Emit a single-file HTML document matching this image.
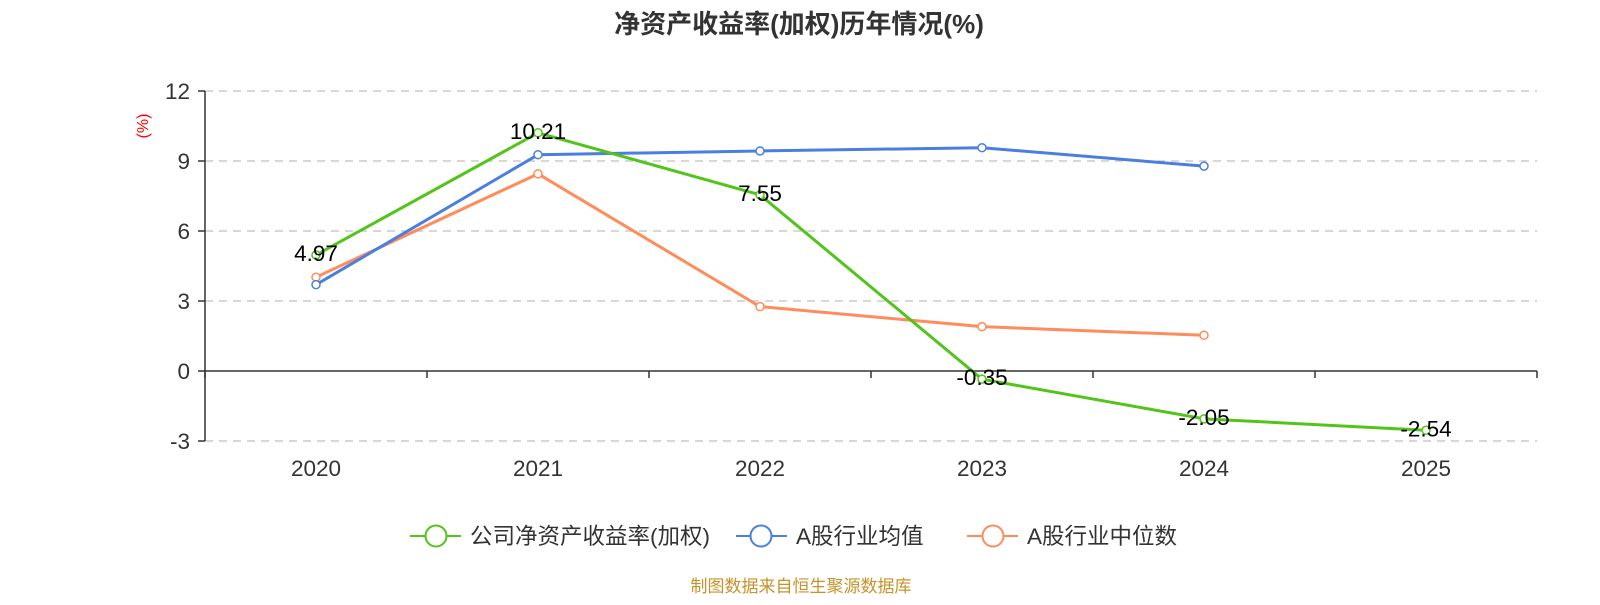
<!DOCTYPE html>
<html><head><meta charset="utf-8"><style>
body{margin:0;background:#fff;}
svg text{font-family:"Liberation Sans","Noto Sans CJK SC",sans-serif;}
</style></head><body>
<svg id="chart" width="1600" height="600" xmlns="http://www.w3.org/2000/svg">
<text x="799" y="33" text-anchor="middle" font-size="26" font-weight="bold" fill="#333">净资产收益率(加权)历年情况(%)</text>
<text transform="translate(148,126) rotate(-90)" text-anchor="middle" font-size="16" fill="#f00">(%)</text>
<g id="grid"></g><g id="axes"></g><g id="series"></g>
<g font-size="22.5" fill="#333">
 <g><line x1="410" y1="536" x2="461" y2="536" stroke="#52c41a" stroke-width="2"/><circle cx="436" cy="536" r="10.5" fill="#fff" stroke="#52c41a" stroke-width="2"/><text x="470" y="544">公司净资产收益率(加权)</text></g>
 <g><line x1="736" y1="536" x2="787" y2="536" stroke="#4a7fe0" stroke-width="2"/><circle cx="761" cy="536" r="10.5" fill="#fff" stroke="#4a7fe0" stroke-width="2"/><text x="796" y="544">A股行业均值</text></g>
 <g><line x1="967" y1="536" x2="1018" y2="536" stroke="#ff8c5a" stroke-width="2"/><circle cx="993" cy="536" r="10.5" fill="#fff" stroke="#ff8c5a" stroke-width="2"/><text x="1027" y="544">A股行业中位数</text></g>
</g>
<text x="801" y="592" text-anchor="middle" font-size="17" fill="#c8922a">制图数据来自恒生聚源数据库</text>
</svg>
<script>
const categories=["2020","2021","2022","2023","2024","2025"];
const yTicks=[-3,0,3,6,9,12];
const companyValues=[4.97,10.21,7.55,-0.35,-2.05,-2.54];
const meanValues=[3.7,9.27,9.43,9.57,8.78];
const medianValues=[4.02,8.45,2.76,1.9,1.53];
const NS="http://www.w3.org/2000/svg";
const L=205,R=1537,T=91,B=441,ymin=-3,ymax=12;
const bw=(R-L)/categories.length;
function xs(i){return L+bw*(i+0.5);}
function ys(v){return B-(v-ymin)/(ymax-ymin)*(B-T);}
function mk(tag,attrs,parent){const e=document.createElementNS(NS,tag);for(const k in attrs)e.setAttribute(k,attrs[k]);parent.appendChild(e);return e;}
const grid=document.getElementById('grid'),axes=document.getElementById('axes'),ser=document.getElementById('series');
yTicks.forEach(v=>{
 if(v!==0){const g=mk('line',{x1:L,x2:R,y1:ys(v),y2:ys(v),stroke:'#ccc','stroke-width':1.5,'stroke-dasharray':'8,6'},grid);
 
 }
 const tk=mk('line',{x1:L-7,x2:L,y1:ys(v),y2:ys(v),stroke:'#333','stroke-width':1.5},axes);
 
 
 const t=mk('text',{x:L-15,y:ys(v)+8,'text-anchor':'end','font-size':22.5,fill:'#333'},axes);t.textContent=v;
 
 
});
const ya=mk('line',{x1:L,x2:L,y1:T,y2:B,stroke:'#333','stroke-width':1.5},axes);


const xa=mk('line',{x1:L,x2:R,y1:ys(0),y2:ys(0),stroke:'#333','stroke-width':1.5},axes);


for(let i=0;i<=categories.length;i++){const tk=mk('line',{x1:L+bw*i,x2:L+bw*i,y1:ys(0),y2:ys(0)+7,stroke:'#333','stroke-width':1.5},axes);
 
 }
categories.forEach((c,i)=>{const t=mk('text',{x:xs(i),y:476,'text-anchor':'middle','font-size':22.5,fill:'#333'},axes);t.textContent=c;
 
 });
function series(vals,color,name,labels){
 const g=mk('g',{},ser);
 
 
 mk('polyline',{points:vals.map((v,i)=>xs(i)+','+ys(v)).join(' '),fill:'none',stroke:color,'stroke-width':3,'stroke-linejoin':'round'},g);
 vals.forEach((v,i)=>{const c=mk('circle',{cx:xs(i),cy:ys(v),r:4,fill:'#fff',stroke:color,'stroke-width':1.5},g);
  
  
  if(labels){const t=mk('text',{x:xs(i),y:ys(v)+6,'text-anchor':'middle','font-size':22.5,fill:'#000'},g);t.textContent=v.toFixed(2);
   
   }
 });
}
series(medianValues,'#ff8c5a','industry-median-line',false);
series(meanValues,'#4a7fe0','industry-mean-line',false);
series(companyValues,'#52c41a','company-roe-line',true);
</script>
</body></html>
